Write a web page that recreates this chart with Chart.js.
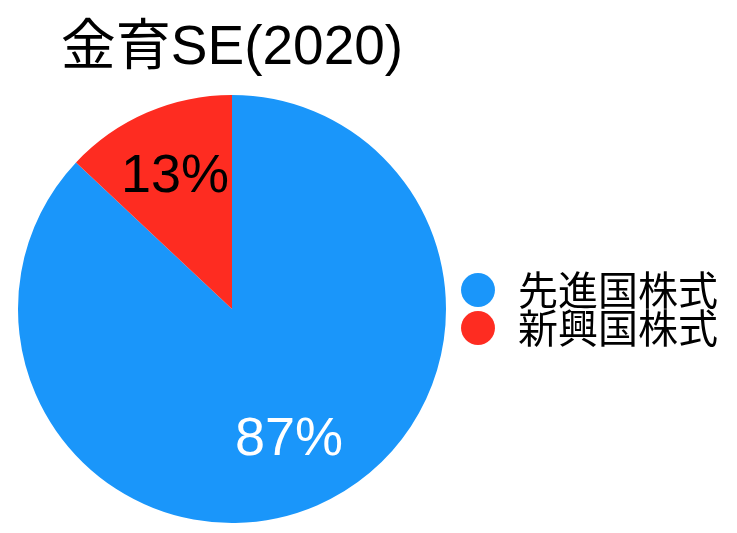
<!DOCTYPE html>
<html>
<head>
<meta charset="utf-8">
<script src="https://cdn.jsdelivr.net/npm/chart.js@4/dist/chart.umd.min.js"></script>
<style>
  html, body { margin: 0; padding: 0; background: #fff; }
  canvas { display: block; }
</style>
</head>
<body>
<canvas id="myChart" width="737" height="533"></canvas>
<script>
const chartTitle = '金育SE(2020)';
const categories = ['先進国株式', '新興国株式'];
const shares = [87, 13];

const sliceColors = ['#1a96fa', '#fe2c21'];
const labelColors = ['#ffffff', '#000000'];

// percentage text inside each slice
const sliceLabels = {
  id: 'sliceLabels',
  afterDatasetsDraw(chart) {
    const ctx = chart.ctx;
    const meta = chart.getDatasetMeta(0);
    ctx.save();
    ctx.font = '54px "Liberation Sans", "Noto Sans CJK JP", sans-serif';
    ctx.textAlign = 'center';
    ctx.textBaseline = 'middle';
    meta.data.forEach((arc, i) => {
      const p = arc.getProps(['x', 'y', 'startAngle', 'endAngle', 'outerRadius'], true);
      const mid = (p.startAngle + p.endAngle) / 2;
      const r = p.outerRadius * 0.67;
      ctx.fillStyle = labelColors[i];
      ctx.fillText(shares[i] + '%', p.x + Math.cos(mid) * r, p.y + Math.sin(mid) * r);
    });
    ctx.restore();
  }
};

Chart.defaults.color = '#000';
Chart.defaults.font.family = '"Liberation Sans", "Noto Sans CJK JP", sans-serif';

const ctx = document.getElementById('myChart').getContext('2d');
new Chart(ctx, {
  type: 'pie',
  data: {
    labels: categories,
    datasets: [{
      data: shares,
      backgroundColor: sliceColors,
      borderWidth: 0
    }]
  },
  options: {
    responsive: false,
    animation: false,
    layout: { padding: { left: 4, right: 9, top: 0, bottom: 10 } },
    plugins: {
      title: {
        display: true,
        text: chartTitle,
        fullSize: false,
        font: { size: 55, weight: 'normal' },
        padding: { top: 16, bottom: 13 }
      },
      legend: {
        position: 'right',
        fullSize: false,
        labels: {
          usePointStyle: true,
          pointStyle: 'circle',
          boxHeight: 24,
          padding: -2,
          font: { size: 40, family: '"Noto Sans CJK JP", sans-serif' }
        }
      },
      tooltip: { enabled: false }
    }
  },
  plugins: [sliceLabels]
});
</script>
</body>
</html>
